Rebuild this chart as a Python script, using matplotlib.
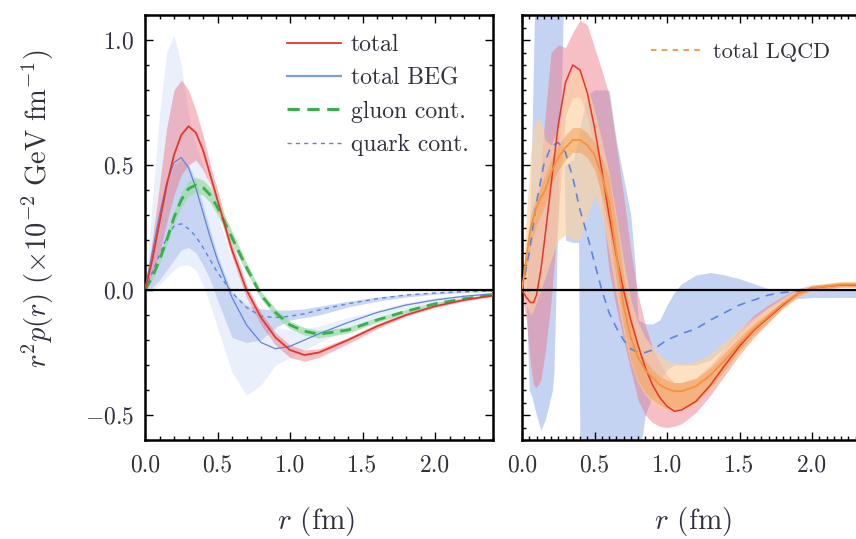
import matplotlib
matplotlib.use("Agg")
import matplotlib.pyplot as plt
from matplotlib.ticker import MultipleLocator, FormatStrFormatter
from matplotlib.lines import Line2D

plt.rcParams["font.family"] = "serif"
plt.rcParams["font.serif"] = ["cmr10"]
plt.rcParams["mathtext.fontset"] = "cm"
plt.rcParams["axes.formatter.use_mathtext"] = True
plt.rcParams["axes.unicode_minus"] = True

# ---- left panel (common r grid, fm) ----
r_left = [0, 0.05, 0.1, 0.15, 0.2, 0.25, 0.3, 0.35, 0.4, 0.45, 0.5, 0.6,
          0.7, 0.8, 0.9, 1.0, 1.1, 1.2, 1.4, 1.6, 1.8, 2.0, 2.2, 2.4]

total_mid = [0, 0.12, 0.27, 0.42, 0.54, 0.62, 0.655, 0.63, 0.56, 0.46, 0.36, 0.16,
             0.0, -0.11, -0.19, -0.24, -0.26, -0.25, -0.2, -0.145, -0.1, -0.065, -0.04, -0.022]
total_hi = [0, 0.2, 0.42, 0.65, 0.8, 0.84, 0.8, 0.72, 0.62, 0.5, 0.4, 0.19,
            0.02, -0.09, -0.17, -0.22, -0.24, -0.235, -0.19, -0.135, -0.09, -0.058, -0.035, -0.018]
total_lo = [0, 0.06, 0.15, 0.27, 0.38, 0.46, 0.5, 0.52, 0.48, 0.42, 0.33, 0.13,
            -0.03, -0.14, -0.22, -0.27, -0.285, -0.27, -0.215, -0.155, -0.105, -0.07, -0.045, -0.026]

beg_mid = [0, 0.15, 0.3, 0.43, 0.51, 0.53, 0.49, 0.41, 0.31, 0.21, 0.12, -0.03,
           -0.14, -0.21, -0.235, -0.225, -0.2, -0.175, -0.13, -0.09, -0.06, -0.04, -0.025, -0.015]
beg_hi = [0, 0.35, 0.7, 0.95, 1.02, 0.9, 0.7, 0.58, 0.5, 0.41, 0.3, 0.12,
          -0.01, -0.1, -0.15, -0.16, -0.155, -0.145, -0.11, -0.08, -0.05, -0.03, -0.018, -0.01]
beg_lo = [0, 0.0, 0.02, 0.05, 0.08, 0.1, 0.1, 0.08, 0.02, -0.06, -0.15, -0.33,
          -0.42, -0.38, -0.3, -0.27, -0.24, -0.21, -0.16, -0.11, -0.075, -0.05, -0.03, -0.018]

gluon_mid = [0, 0.05, 0.12, 0.2, 0.29, 0.36, 0.405, 0.42, 0.41, 0.38, 0.33, 0.21,
             0.09, -0.02, -0.09, -0.14, -0.165, -0.177, -0.16, -0.12, -0.085, -0.055, -0.035, -0.02]
gluon_err = [0, 0.01, 0.015, 0.02, 0.025, 0.03, 0.03, 0.03, 0.03, 0.03, 0.03, 0.025,
             0.02, 0.015, 0.015, 0.015, 0.015, 0.015, 0.012, 0.01, 0.008, 0.006, 0.005, 0.004]

quark_mid = [0, 0.07, 0.14, 0.21, 0.255, 0.265, 0.245, 0.215, 0.17, 0.12, 0.07, -0.01,
             -0.07, -0.105, -0.11, -0.105, -0.095, -0.08, -0.055, -0.035, -0.02, -0.012, -0.007, -0.004]
quark_hi = [0, 0.15, 0.3, 0.42, 0.5, 0.52, 0.5, 0.44, 0.34, 0.24, 0.14, -0.01,
            -0.06, -0.075, -0.08, -0.08, -0.075, -0.065, -0.045, -0.028, -0.016, -0.009, -0.005, -0.002]
quark_lo = [0, 0.01, 0.04, 0.08, 0.12, 0.16, 0.17, 0.15, 0.1, 0.04, -0.04, -0.19,
            -0.21, -0.2, -0.15, -0.12, -0.11, -0.1, -0.068, -0.045, -0.028, -0.017, -0.01, -0.006]

# ---- right panel ----
r_right = [0, 0.03, 0.06, 0.08, 0.1, 0.13, 0.16, 0.2, 0.25, 0.3, 0.35, 0.4, 0.45, 0.5,
           0.55, 0.6, 0.65, 0.7, 0.75, 0.8, 0.85, 0.9, 0.95, 1.0, 1.05, 1.1, 1.2, 1.3,
           1.4, 1.5, 1.6, 1.7, 1.8, 1.9, 2.0, 2.2, 2.4]

tot2_mid = [0, -0.03, -0.05, -0.05, -0.02, 0.08, 0.22, 0.42, 0.66, 0.83, 0.9, 0.88, 0.79, 0.65,
            0.48, 0.3, 0.14, 0.0, -0.12, -0.22, -0.31, -0.38, -0.43, -0.465, -0.485, -0.48, -0.445, -0.38,
            -0.3, -0.225, -0.16, -0.11, -0.06, -0.015, 0.008, 0.02, 0.018]
tot2_hi = [0.02, 0.12, 0.2, 0.25, 0.3, 0.5, 0.7, 0.95, 0.98, 0.97, 1.03, 1.08, 1.06, 0.97,
           0.88, 0.78, 0.58, 0.38, 0.16, -0.02, -0.14, -0.23, -0.29, -0.34, -0.37, -0.37, -0.35, -0.3,
           -0.23, -0.16, -0.1, -0.06, -0.025, 0.005, 0.02, 0.028, 0.025]
tot2_lo = [-0.02, -0.12, -0.3, -0.38, -0.39, -0.36, -0.25, -0.05, 0.3, 0.7, 0.77, 0.77, 0.7, 0.55,
           0.35, 0.08, -0.07, -0.2, -0.32, -0.44, -0.5, -0.53, -0.545, -0.55, -0.545, -0.535, -0.49, -0.42,
           -0.34, -0.26, -0.19, -0.13, -0.07, -0.03, 0.0, 0.012, 0.012]

lqcd_mid = [0, 0.13, 0.25, 0.29, 0.33, 0.37, 0.4, 0.47, 0.53, 0.57, 0.6, 0.6, 0.58, 0.54,
            0.46, 0.35, 0.15, -0.06, -0.19, -0.27, -0.32, -0.35, -0.38, -0.395, -0.405, -0.405, -0.385, -0.34,
            -0.28, -0.215, -0.155, -0.105, -0.055, -0.015, 0.008, 0.022, 0.022]
lqcd_wide_lo = [0, -0.06, -0.1, -0.08, -0.05, 0.0, 0.05, 0.12, 0.2, 0.22, 0.2, 0.2, 0.3, 0.38,
                0.3, 0.15, -0.02, -0.17, -0.29, -0.37, -0.42, -0.45, -0.47, -0.48, -0.485, -0.48, -0.455, -0.4,
                -0.33, -0.255, -0.19, -0.13, -0.075, -0.03, -0.005, 0.01, 0.01]
lqcd_wide_hi = [0, 0.3, 0.55, 0.65, 0.68, 0.68, 0.6, 0.58, 0.65, 0.8, 0.88, 0.88, 0.82, 0.72,
                0.6, 0.47, 0.3, 0.12, -0.04, -0.13, -0.19, -0.23, -0.26, -0.28, -0.29, -0.295, -0.285, -0.255,
                -0.205, -0.155, -0.11, -0.07, -0.03, 0.0, 0.02, 0.035, 0.035]
lqcd_lo = [0, 0.08, 0.18, 0.22, 0.26, 0.3, 0.34, 0.42, 0.48, 0.52, 0.55, 0.55, 0.53, 0.48,
           0.38, 0.24, 0.04, -0.14, -0.28, -0.36, -0.41, -0.44, -0.46, -0.475, -0.48, -0.475, -0.45, -0.39,
           -0.32, -0.245, -0.18, -0.125, -0.07, -0.025, 0.0, 0.012, 0.012]
lqcd_hi = [0, 0.18, 0.3, 0.34, 0.37, 0.42, 0.46, 0.52, 0.58, 0.62, 0.65, 0.65, 0.63, 0.59,
           0.53, 0.45, 0.27, 0.06, -0.1, -0.22, -0.28, -0.32, -0.345, -0.36, -0.37, -0.37, -0.355, -0.31,
           -0.25, -0.19, -0.135, -0.09, -0.045, -0.005, 0.018, 0.032, 0.032]

# quark-like band of the right panel, two separate pieces
qb1_r = [0, 0.03, 0.05, 0.07, 0.09, 0.11, 0.13, 0.16, 0.19, 0.21, 0.22, 0.24, 0.26, 0.28, 0.29]
qb1_lo = [0, -0.05, -0.4, -0.43, -0.48, -0.52, -0.56, -0.52, -0.45, -0.4, -0.33, 0.11, 0.55, 0.99, 1.3]
qb1_hi = [0, 0.0, 0.2, 0.65, 1.2, 1.3, 1.3, 1.3, 1.3, 1.3, 1.3, 1.3, 1.3, 1.3, 1.3]
qb2_r = [0.29, 0.3, 0.35, 0.39, 0.4, 0.45, 0.5, 0.55, 0.6, 0.65, 0.7, 0.75, 0.78, 0.8, 0.85,
         0.9, 0.95, 1.0, 1.05, 1.1, 1.2, 1.3, 1.4, 1.5, 1.6, 1.7, 1.8, 1.9, 2.0, 2.2, 2.4]
qb2_lo = [0.5, 0.2, 0.19, 0.19, -0.7, -0.7, -0.7, -0.7, -0.7, -0.7, -0.7, -0.7, -0.7, -0.7, -0.5,
          -0.42, -0.36, -0.32, -0.3, -0.3, -0.3, -0.28, -0.23, -0.17, -0.12, -0.07, -0.045, -0.035, -0.03, -0.03, -0.03]
qb2_hi = [0.5, 0.5, 0.52, 0.6, 0.65, 0.78, 0.8, 0.8, 0.8, 0.6, 0.45, 0.3, 0.1, -0.12, -0.135,
          -0.136, -0.12, -0.06, -0.01, 0.025, 0.06, 0.07, 0.06, 0.045, 0.025, 0.005, 0.0, 0.0, 0.0, 0.0, 0.0]

rq_right = [0, 0.05, 0.1, 0.15, 0.2, 0.25, 0.3, 0.35, 0.4, 0.45, 0.5, 0.55, 0.6, 0.65, 0.7,
            0.75, 0.8, 0.85, 0.9, 1.0, 1.1, 1.2, 1.3, 1.4, 1.5, 1.6, 1.7, 1.8, 1.9, 2.0, 2.2, 2.4]
quark2_mid = [0, 0.15, 0.35, 0.5, 0.575, 0.59, 0.55, 0.45, 0.32, 0.22, 0.11, 0.0, -0.09, -0.15, -0.2,
              -0.235, -0.25, -0.25, -0.24, -0.2, -0.175, -0.155, -0.12, -0.09, -0.06, -0.04, -0.02, -0.01,
              -0.005, 0.0, 0.0, 0.0]

RED = "#e6352b"
PINK = "#ec6f7f"
BLUE = "#5f84da"
QBAND = "#c4d3f2"
LBAND = "#e9effb"
GREEN = "#35b04b"
ORANGE = "#f5923e"
TXT = "#30303f"

fig = plt.figure(figsize=(8.56, 5.39), dpi=100)
ax1 = fig.add_axes([145 / 856, 99 / 539, 348 / 856, 425 / 539])
ax2 = fig.add_axes([522 / 856, 99 / 539, 348 / 856, 425 / 539])

# left panel
ax1.fill_between(r_left, beg_lo, beg_hi, color=LBAND, lw=0, zorder=1)
ax1.fill_between(r_left, quark_lo, quark_hi, color=QBAND, alpha=0.9, lw=0, zorder=1.1)
ax1.fill_between(r_left, total_lo, total_hi, color=PINK, alpha=0.45, lw=0, zorder=1.2)
g_lo = [m - e for m, e in zip(gluon_mid, gluon_err)]
g_hi = [m + e for m, e in zip(gluon_mid, gluon_err)]
ax1.fill_between(r_left, g_lo, g_hi, color="#9edca8", alpha=0.75, lw=0, zorder=1.3)
ax1.plot(r_left, beg_mid, color=BLUE, lw=0.9, zorder=3)
ax1.plot(r_left, quark_mid, color=BLUE, lw=1.0, ls=(0, (3, 3)), zorder=3)
ax1.plot(r_left, gluon_mid, color=GREEN, lw=2.0, ls=(0, (4, 2.5)), zorder=3)
ax1.plot(r_left, total_mid, color=RED, lw=1.3, zorder=3.1)

# right panel
ax2.fill_between(qb1_r, qb1_lo, qb1_hi, color=QBAND, lw=0, zorder=1)
ax2.fill_between(qb2_r, qb2_lo, qb2_hi, color=QBAND, lw=0, zorder=1)
ax2.fill_between(r_right, tot2_lo, tot2_hi, color=PINK, alpha=0.45, lw=0, zorder=1.1)
ax2.fill_between(r_right, lqcd_wide_lo, lqcd_wide_hi, color="#fcd2a0", alpha=0.65, lw=0, zorder=1.2)
ax2.fill_between(r_right, lqcd_lo, lqcd_hi, color="#f39a52", alpha=0.5, lw=0, zorder=1.3)
ax2.plot(rq_right, quark2_mid, color=BLUE, lw=1.2, ls=(0, (5, 4)), zorder=3)
ax2.plot(r_right, tot2_mid, color=RED, lw=1.1, zorder=3)
ax2.plot(r_right, lqcd_mid, color=ORANGE, lw=1.3, zorder=3.1)

for ax, ymin in ((ax1, 0.1), (ax2, 0.05)):
    ax.axhline(0, color="black", lw=1.6, zorder=4)
    ax.set_xlim(0, 2.4)
    ax.set_ylim(-0.6, 1.1)
    ax.xaxis.set_major_locator(MultipleLocator(0.5))
    ax.xaxis.set_minor_locator(MultipleLocator(0.05 if ax is ax2 else 0.1))
    ax.yaxis.set_major_locator(MultipleLocator(0.5))
    ax.yaxis.set_minor_locator(MultipleLocator(ymin))
    ax.tick_params(which="both", direction="in", top=True, right=True,
                   colors="black", labelcolor=TXT, labelsize=17, width=1.0)
    ax.tick_params(which="major", length=6)
    ax.tick_params(which="minor", length=3)
    ax.tick_params(axis="x", pad=10)
    ax.tick_params(axis="y", pad=8)
    for s in ax.spines.values():
        s.set_linewidth(1.8)
    ax.xaxis.set_major_formatter(FormatStrFormatter("%.1f"))
    ax.set_xlabel(r"$r$ (fm)", fontsize=21, color=TXT)
    ax.xaxis.set_label_coords(0.49, -0.152)

ax1.yaxis.set_major_formatter(FormatStrFormatter("$%.1f$"))
ax2.tick_params(axis="y", labelleft=False)
ax1.set_ylabel(r"$r^2p(r)\ (\times 10^{-2}\ \mathrm{GeV\ fm}^{-1})$", fontsize=20.5, color=TXT)
ax1.yaxis.set_label_coords(-0.255, 0.545)

h1 = [Line2D([], [], color=RED, lw=1.3),
      Line2D([], [], color="#7b9be2", lw=1.6),
      Line2D([], [], color=GREEN, lw=2.2, ls=(0, (4, 2.5))),
      Line2D([], [], color=BLUE, lw=1.0, ls=(0, (3, 3)))]
leg1 = ax1.legend(h1, ["total", "total BEG", "gluon cont.", "quark cont."],
                  loc="upper left", bbox_to_anchor=(0.408, 0.955), frameon=False,
                  fontsize=17, handlelength=2.3, handletextpad=0.4,
                  labelspacing=0.47, borderpad=0, borderaxespad=0)
for t in leg1.get_texts():
    t.set_color(TXT)

h2 = [Line2D([], [], color=ORANGE, lw=1.3, ls=(0, (3, 3)))]
leg2 = ax2.legend(h2, ["total LQCD"], loc="upper left", bbox_to_anchor=(0.37, 0.935),
                  frameon=False, fontsize=16, handlelength=2.2, handletextpad=0.6,
                  borderpad=0, borderaxespad=0)
for t in leg2.get_texts():
    t.set_color(TXT)

fig.savefig("out.png", dpi=100, facecolor="white")
